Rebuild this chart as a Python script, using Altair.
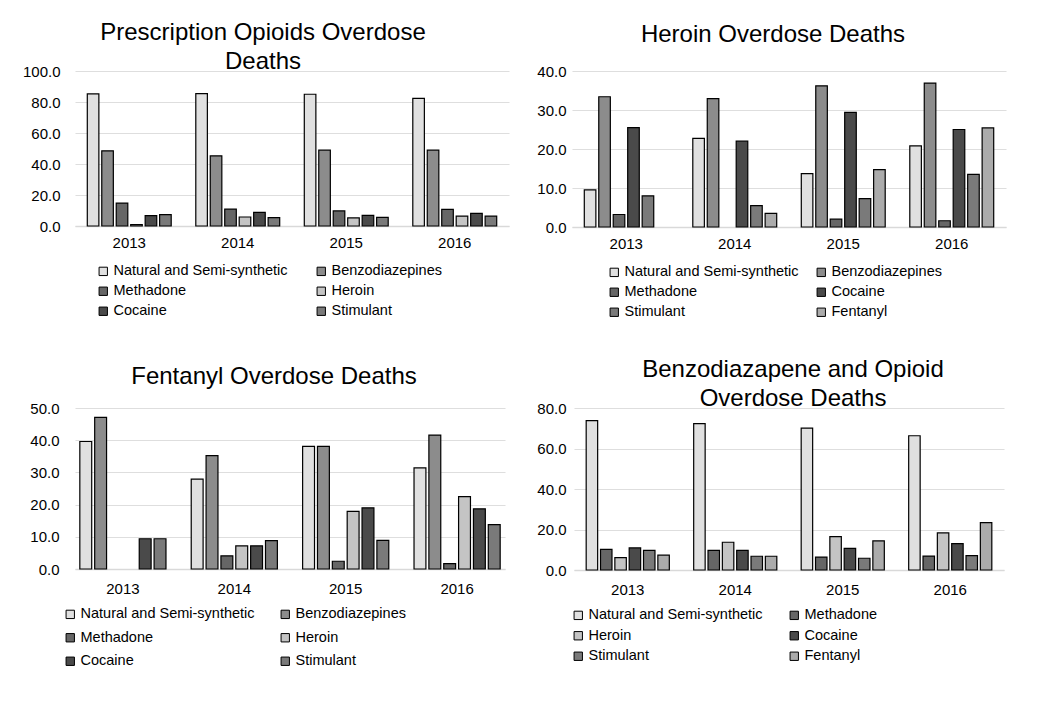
import altair as alt
import pandas as pd

FONT = "Liberation Sans"

years = ["2013", "2014", "2015", "2016"]

# --- Prescription Opioids Overdose Deaths ---
rx_series = ["Natural and Semi-synthetic", "Benzodiazepines", "Methadone",
             "Heroin", "Cocaine", "Stimulant"]
rx_natural = [85.2, 85.4, 85.0, 82.4]
rx_benzo = [48.5, 45.3, 48.9, 48.9]
rx_methadone = [14.8, 10.9, 9.7, 10.7]
rx_heroin = [0.9, 5.8, 5.2, 6.4]
rx_cocaine = [6.7, 8.8, 6.9, 8.2]
rx_stimulant = [7.3, 5.4, 5.6, 6.4]

# --- Heroin Overdose Deaths ---
her_series = ["Natural and Semi-synthetic", "Benzodiazepines", "Methadone",
              "Cocaine", "Stimulant", "Fentanyl"]
her_natural = [9.5, 22.7, 13.7, 20.8]
her_benzo = [33.4, 32.9, 36.2, 36.9]
her_methadone = [3.2, None, 2.0, 1.6]
her_cocaine = [25.5, 22.0, 29.4, 25.0]
her_stimulant = [8.0, 5.5, 7.3, 13.5]
her_fentanyl = [None, 3.5, 14.7, 25.4]

# --- Fentanyl Overdose Deaths ---
fen_series = ["Natural and Semi-synthetic", "Benzodiazepines", "Methadone",
              "Heroin", "Cocaine", "Stimulant"]
fen_natural = [39.6, 27.9, 38.1, 31.4]
fen_benzo = [47.1, 35.2, 38.1, 41.6]
fen_methadone = [None, 4.1, 2.4, 1.7]
fen_heroin = [None, 7.2, 17.9, 22.5]
fen_cocaine = [9.4, 7.2, 19.0, 18.7]
fen_stimulant = [9.4, 8.8, 8.9, 13.8]

# --- Benzodiazapene and Opioid Overdose Deaths ---
bz_series = ["Natural and Semi-synthetic", "Methadone", "Heroin",
             "Cocaine", "Stimulant", "Fentanyl"]
bz_natural = [73.8, 72.3, 70.1, 66.3]
bz_methadone = [10.2, 9.7, 6.4, 6.9]
bz_heroin = [6.1, 13.7, 16.5, 18.3]
bz_cocaine = [10.9, 9.7, 10.7, 13.0]
bz_stimulant = [9.7, 6.8, 5.8, 7.1]
bz_fentanyl = [7.3, 6.8, 14.4, 23.4]

# greyscale stand-ins for the hatch patterns
shade = {
    "Natural and Semi-synthetic": "#e0e0e0",
    "Benzodiazepines": "#8c8c8c",
    "Methadone": "#666666",
    "Heroin": "#c4c4c4",
    "Cocaine": "#4a4a4a",
    "Stimulant": "#7a7a7a",
    "Fentanyl": "#ababab",
}


def make_df(series, values):
    rows = []
    for s, vals in zip(series, values):
        for yr, v in zip(years, vals):
            if v is not None:
                rows.append({"year": yr, "series": s, "value": v})
    return pd.DataFrame(rows)


def panel(title, series, values, ymax, step, w, h, label_pad, dx, dy,
          leg_x, leg_y, col_pad, row_pad, xlab_pad, outer=0.1):
    df = make_df(series, values)
    ticks = [i * step for i in range(int(round(ymax / step)) + 1)]
    return alt.Chart(df).mark_bar(stroke="black", strokeWidth=1.2).encode(
        x=alt.X("year:N", sort=years,
                scale=alt.Scale(paddingInner=0.2, paddingOuter=outer),
                axis=alt.Axis(title=None, labelAngle=0, ticks=False,
                              domainColor="#d9d9d9", domainWidth=1.5,
                              labelFont=FONT, labelFontSize=15,
                              labelColor="black", labelPadding=xlab_pad)),
        xOffset=alt.XOffset("series:N", sort=series,
                            scale=alt.Scale(domain=series, paddingInner=0.2,
                                            paddingOuter=0.1)),
        y=alt.Y("value:Q", scale=alt.Scale(domain=[0, ymax], nice=False),
                axis=alt.Axis(title=None, values=ticks, format=".1f",
                              domain=False, ticks=False, gridColor="#dedede",
                              gridWidth=1.2, labelFont=FONT, labelFontSize=15,
                              labelColor="black", labelPadding=label_pad)),
        color=alt.Color("series:N", sort=series,
                        scale=alt.Scale(domain=series,
                                        range=[shade[s] for s in series]),
                        legend=alt.Legend(title=None, orient="none",
                                          legendX=leg_x, legendY=leg_y,
                                          direction="horizontal",
                                          columns=2, symbolType="square",
                                          symbolSize=70,
                                          symbolStrokeColor="black",
                                          symbolStrokeWidth=1,
                                          labelFont=FONT, labelFontSize=14.5,
                                          labelColor="black", labelOffset=3,
                                          labelLimit=0,
                                          columnPadding=col_pad,
                                          rowPadding=row_pad)),
    ).properties(
        width=w, height=h,
        title=alt.TitleParams(title, font=FONT, fontSize=24,
                              fontWeight="normal", color="black",
                              anchor="middle", lineHeight=29, offset=-10,
                              dx=dx, dy=dy),
    )


p1 = panel(["Prescription Opioids Overdose", "Deaths"], rx_series,
           [rx_natural, rx_benzo, rx_methadone, rx_heroin, rx_cocaine,
            rx_stimulant], 100, 20, 434, 155, 15, -29, 0, 21, 193, 26, 5, 9)
p2 = panel(["Heroin Overdose Deaths", " "], her_series,
           [her_natural, her_benzo, her_methadone, her_cocaine,
            her_stimulant, her_fentanyl], 40, 10, 434, 156, 6, -16, 2, 35,
           194, 15, 5, 9)
p3 = panel(["Fentanyl Overdose Deaths", " "], fen_series,
           [fen_natural, fen_benzo, fen_methadone, fen_heroin, fen_cocaine,
            fen_stimulant], 50, 10, 430, 161, 16, -16, 7, -12, 199, 23, 8.5,
           12, outer=0.03)
p4 = panel(["Benzodiazapene and Opioid", "Overdose Deaths"], bz_series,
           [bz_natural, bz_methadone, bz_heroin, bz_cocaine, bz_stimulant,
            bz_fentanyl], 80, 20, 430, 162, 8, 4, 0, -3, 200, 24, 5.5, 12)

row1 = alt.hconcat(p1, p2, spacing=27).resolve_scale(
    color="independent", x="independent", y="independent",
    xOffset="independent")
row2 = alt.hconcat(p3, p4, spacing=31).resolve_scale(
    color="independent", x="independent", y="independent",
    xOffset="independent")

chart = alt.vconcat(row1, row2, spacing=39).resolve_scale(
    color="independent", x="independent", y="independent",
    xOffset="independent"
).properties(
    padding={"left": 14, "top": 13, "right": 5, "bottom": 5},
    background="white",
).configure_view(strokeWidth=0)

chart.save("out.html", embed_options={"renderer": "svg", "actions": False})
